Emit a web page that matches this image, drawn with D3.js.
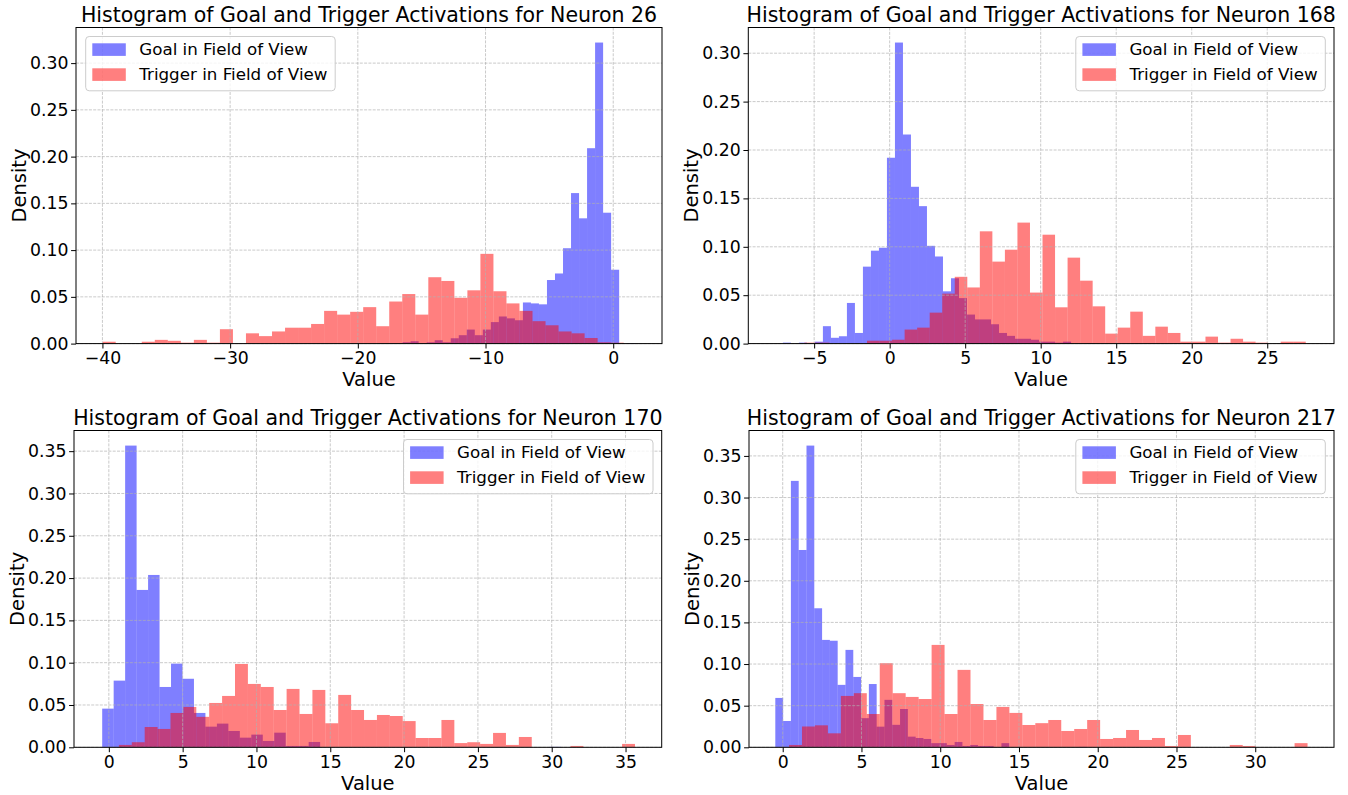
<!DOCTYPE html>
<html><head><meta charset="utf-8">
<script src="https://cdn.jsdelivr.net/npm/d3@7"></script>
<style>
body{margin:0;background:#fff}
svg{display:block}
text{font-family:"DejaVu Sans",sans-serif;fill:#000}
</style>
</head><body>
<svg id="c" width="1348" height="795"></svg>
<script>
// ---------------- DATA ----------------
const seriesNames = ["Goal in Field of View", "Trigger in Field of View"];
const neurons = [26, 168, 170, 217];

// histogram densities (40 bins each)
const goal26 = [0,0,0,0,0,0,0,0,0.0003,0.0005, 0.0005,0.0014,0.0025,0.0005,0.0014,0.0036,0.0014,0.0057,0.009,0.015,
  0.009,0.015,0.023,0.029,0.027,0.025,0.044,0.043,0.042,0.068, 0.075,0.102,0.161,0.134,0.209,0.322,0.14,0.079,0,0.0005];
const trigger26 = [0.002,0,0,0.002,0.004,0.003,0.001,0.004,0.001,0.0154, 0,0.011,0.008,0.013,0.017,0.017,0.021,0.035,0.031,0.034,
  0.039,0.0186,0.045,0.053,0.031,0.071,0.067,0.049,0.057,0.096, 0.056,0.043,0.035,0.024,0.0196,0.013,0.011,0.006,0.0014,0.001];

const goal168 = [0,0.001,0,0.001,0,0.002,0.018,0.006,0.0076,0.042, 0.011,0.0795,0.096,0.099,0.192,0.311,0.216,0.162,0.142,0.101,
  0.090,0.054,0.0675,0.047,0.030,0.025,0.025,0.020,0.011,0.008, 0.005,0.005,0.004,0.002,0.002,0.001,0.002,0,0,0.0005];
const trigger168 = [0.001,0.001,0,0,0,0.003,0.003,0.004,0.0145,0.0165, 0.032,0.0516,0.069,0.058,0.116,0.0847,0.097,0.125,0.0527,0.1125,
  0.0375,0.0888,0.065,0.0385,0.0103,0.0165,0.033,0.008,0.0175,0.011, 0.002,0.002,0.0072,0.001,0.005,0.002,0.001,0,0.002,0.002];

const goal170 = [0.0457,0.0788,0.3566,0.186,0.2037,0.0713,0.0989,0.081,0.0406,0.0244, 0.028,0.0193,0.0114,0.015,0.0075,0.0173,0.0016,0.0016,0.0063,0,
  0,0,0,0,0,0,0,0,0,0, 0,0,0,0,0,0,0,0,0,0.0005];
const trigger170 = [0.0028,0.006,0.024,0.0217,0.0406,0.0477,0.036,0.0524,0.0607,0.0985, 0.0749,0.0713,0.0441,0.069,0.0394,0.0678,0.0284,0.0619,0.0441,0.0323,
  0.0382,0.037,0.031,0.011,0.011,0.0323,0.005,0.006,0.004,0.017, 0.0028,0.0122,0,0,0,0.0016,0,0,0,0.004];

const goal217 = [0.0593,0.0316,0.32,0.237,0.3624,0.167,0.129,0.128,0.075,0.117, 0.0845,0.035,0.076,0.0248,0.057,0.027,0.046,0.0128,0.0112,0.010,
  0.005,0.005,0.0028,0.0064,0.0016,0.0028,0.0016,0.0016,0,0.005, 0,0,0,0,0,0,0,0,0,0.0005];
const trigger217 = [0.0028,0.025,0.0264,0.0168,0.0617,0.065,0.040,0.101,0.065,0.0605, 0.058,0.123,0.040,0.093,0.052,0.0328,0.0485,0.0413,0.0268,0.029,
  0.0328,0.0196,0.022,0.0328,0.010,0.0112,0.0208,0.0088,0.0112,0.0016, 0.0148,0,0,0,0.0028,0.0016,0,0,0,0.005];

// first bin edge and bin width of each histogram
const goalBinStart = [-23.4, -7.6, -0.45, -0.47];
const goalBinWidth = [0.628, 0.53, 0.777, 0.495];
const triggerBinStart = [-39.98, -5.65, 0.68, 0.4];
const triggerBinWidth = [1.02, 0.83, 0.874, 0.823];

const xLimits = [[-42.07, 3.82], [-9.36, 29.42], [-2.36, 37.45], [-2.14, 35.0]];
const xTicks = [[-40,-30,-20,-10,0], [-5,0,5,10,15,20,25], [0,5,10,15,20,25,30,35], [0,5,10,15,20,25,30]];
const yTicks = [[0,0.05,0.10,0.15,0.20,0.25,0.30], [0,0.05,0.10,0.15,0.20,0.25,0.30],
  [0,0.05,0.10,0.15,0.20,0.25,0.30,0.35], [0,0.05,0.10,0.15,0.20,0.25,0.30,0.35]];

const goalSeries = [goal26, goal168, goal170, goal217];
const triggerSeries = [trigger26, trigger168, trigger170, trigger217];

// ---------------- LAYOUT ----------------
const frames = [
  {l:76,    r:662,    t:27.5,  b:343.6, legend:"left"},
  {l:748.3, r:1334,   t:27.5,  b:343.6, legend:"right"},
  {l:74,    r:661.7,  t:430.5, b:747.3, legend:"right"},
  {l:749,   r:1334,   t:430.5, b:747.3, legend:"right"}
];
const colors = {goal:"blue", trigger:"red"};
const svg = d3.select("#c");
const fmtY = d3.format(".2f");
const fmtX = d3.format("d");

frames.forEach((f, p) => {
  const x = d3.scaleLinear().domain(xLimits[p]).range([f.l, f.r]);
  const ymax = 1.05 * d3.max(goalSeries[p].concat(triggerSeries[p]));
  const y = d3.scaleLinear().domain([0, ymax]).range([f.b, f.t]);
  const g = svg.append("g");

  function drawHist(values, start, width, color) {
    const bins = values.map((v, i) => ({x0: start + i*width, x1: start + (i+1)*width, v}));
    g.append("g").selectAll("rect").data(bins.filter(d => d.v > 0)).join("rect")
      .attr("x", d => x(d.x0)).attr("width", d => x(d.x1) - x(d.x0))
      .attr("y", d => y(d.v)).attr("height", d => y(0) - y(d.v))
      .attr("fill", color).attr("fill-opacity", 0.5);
  }
  drawHist(goalSeries[p], goalBinStart[p], goalBinWidth[p], colors.goal);
  drawHist(triggerSeries[p], triggerBinStart[p], triggerBinWidth[p], colors.trigger);

  // grid (above bars, like matplotlib default)
  const grid = g.append("g").attr("stroke", "#b0b0b0").attr("stroke-width", 0.8)
    .attr("stroke-dasharray", "3,1.3").attr("stroke-opacity", 0.85);
  xTicks[p].forEach(t => grid.append("line").attr("x1", x(t)).attr("x2", x(t)).attr("y1", f.t).attr("y2", f.b));
  yTicks[p].forEach(t => grid.append("line").attr("x1", f.l).attr("x2", f.r).attr("y1", y(t)).attr("y2", y(t)));

  // axes with D3 axis generators
  const xAxis = d3.axisBottom(x).tickValues(xTicks[p]).tickFormat(fmtX).tickSize(4.9).tickPadding(3.2);
  const yAxis = d3.axisLeft(y).tickValues(yTicks[p]).tickFormat(fmtY).tickSize(4.9).tickPadding(2.6);
  const gx = g.append("g").attr("transform", `translate(0,${f.b})`).call(xAxis);
  const gy = g.append("g").attr("transform", `translate(${f.l},0)`).call(yAxis);
  [gx, gy].forEach(a => {
    a.select(".domain").remove();
    a.selectAll("line").attr("stroke", "#000").attr("stroke-width", 1);
    a.selectAll("text").attr("font-size", "17.3px").attr("font-family", "DejaVu Sans").attr("fill", "#000");
  });

  // spines
  g.append("rect").attr("x", f.l).attr("y", f.t).attr("width", f.r - f.l).attr("height", f.b - f.t)
    .attr("fill", "none").attr("stroke", "#000").attr("stroke-width", 1);

  // title & labels
  g.append("text").attr("x", (f.l + f.r)/2).attr("y", f.t - 5.5).attr("text-anchor", "middle")
    .attr("font-size", "20.5px").text(`Histogram of Goal and Trigger Activations for Neuron ${neurons[p]}`);
  g.append("text").attr("x", (f.l + f.r)/2).attr("y", f.b + 42.3).attr("text-anchor", "middle")
    .attr("font-size", "19.5px").text("Value");
  g.append("text").attr("transform", `translate(${f.l - 57},${(f.t + f.b)/2}) rotate(-90)`)
    .attr("text-anchor", "middle").attr("dy", "0.35em").attr("font-size", "19.5px").text("Density");

  // legend
  const lw = 249.5, lh = 54.3;
  const bx = f.legend === "left" ? f.l + 9.7 : f.r - 8.7 - lw;
  const by = f.t + 9.0;
  const lg = g.append("g").attr("transform", `translate(${bx},${by})`);
  lg.append("rect").attr("width", lw).attr("height", lh).attr("rx", 3.5)
    .attr("fill", "#fff").attr("fill-opacity", 0.8).attr("stroke", "#cccccc").attr("stroke-width", 1);
  [colors.goal, colors.trigger].forEach((c, i) => {
    lg.append("rect").attr("x", 6.6).attr("y", 6.8 + i*25).attr("width", 33.5).attr("height", 12.6)
      .attr("fill", c).attr("fill-opacity", 0.5);
    lg.append("text").attr("x", 53.6).attr("y", 18.8 + i*25).attr("font-size", "16.7px").text(seriesNames[i]);
  });
});
</script>
</body></html>
